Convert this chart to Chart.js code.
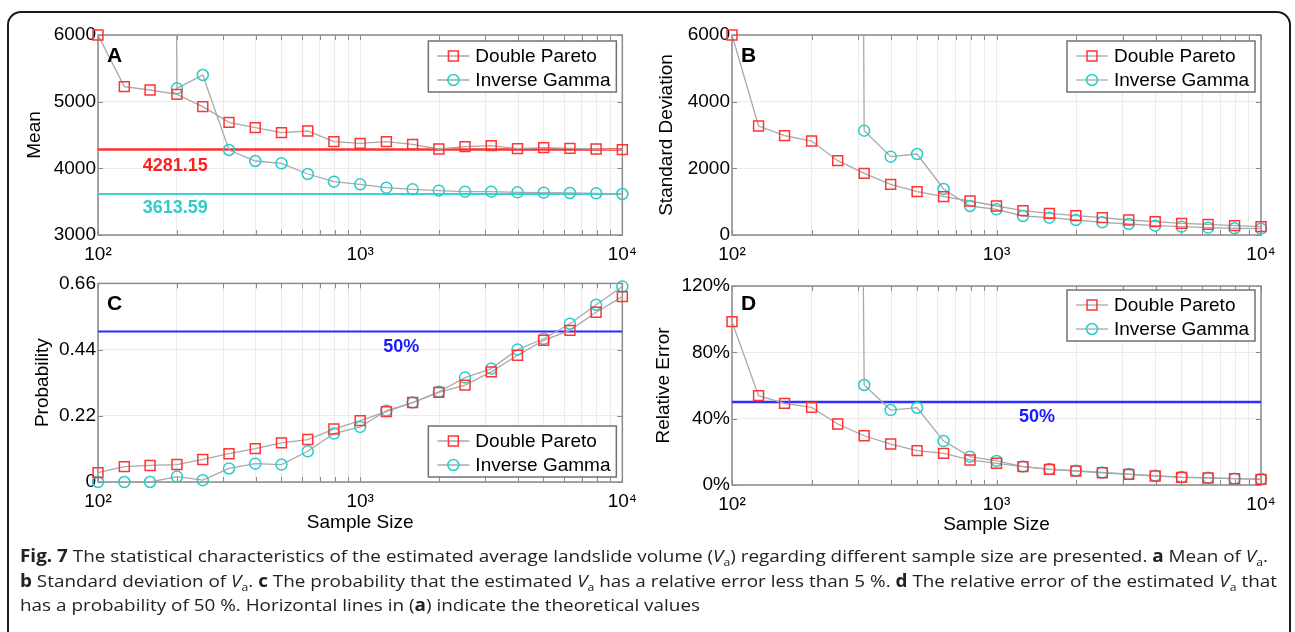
<!DOCTYPE html>
<html lang="en">
<head>
<meta charset="UTF-8">
<title>Fig. 7</title>
<script src="https://cdn.jsdelivr.net/npm/chart.js@4.4.1/dist/chart.umd.min.js"></script>
<style>
  html, body { margin: 0; padding: 0; background: #fff; }
  body { width: 1295px; height: 632px; position: relative; overflow: hidden; font-family: "Liberation Sans", Arial, sans-serif; }
  .frame { position: absolute; left: 7px; top: 11px; width: 1280px; height: 640px; border: 2px solid #1c1c1c; border-radius: 14px; }
  .panel { position: absolute; }
  .panel canvas { display: block; }
  #caption { position: absolute; left: 20px; top: 544px; font-family: "Open Sans", "Noto Sans", sans-serif; font-size: 17px; line-height: 24.5px; color: #222; white-space: nowrap; transform-origin: 0 0; }
  #caption sub { font-size: 11px; line-height: 0; }
</style>
</head>
<body>
<div class="frame"></div>
<div class="panel" id="pA"><canvas id="cA"></canvas></div>
<div class="panel" id="pB"><canvas id="cB"></canvas></div>
<div class="panel" id="pC"><canvas id="cC"></canvas></div>
<div class="panel" id="pD"><canvas id="cD"></canvas></div>
<div id="caption">
  <div><span><b>Fig. 7</b> The statistical characteristics of the estimated average landslide volume (<i>V</i><sub>a</sub>) regarding different sample size are presented. <b>a</b> Mean of <i>V</i><sub>a</sub>.</span></div>
  <div><span><b>b</b> Standard deviation of <i>V</i><sub>a</sub>. <b>c</b> The probability that the estimated <i>V</i><sub>a</sub> has a relative error less than 5 %. <b>d</b> The relative error of the estimated <i>V</i><sub>a</sub> that</span></div>
  <div><span>has a probability of 50 %. Horizontal lines in (<b>a</b>) indicate the theoretical values</span></div>
</div>

<script>
// sample sizes (x), 10 per decade
const sampleSize = [100, 126, 158, 200, 251, 316, 398, 501, 631, 794, 1000, 1259, 1585, 1995, 2512, 3162, 3981, 5012, 6310, 7943, 10000];
const xGridValues = [100, 200, 300, 400, 500, 600, 700, 800, 900, 1000, 2000, 3000, 4000, 5000, 6000, 7000, 8000, 9000, 10000];
const xTickValues = [100, 1000, 10000];
const xTickLabels = ['10²', '10³', '10⁴'];

// A: mean
const meanDP = [6000, 5225, 5175, 5110, 4925, 4690, 4610, 4535, 4560, 4400, 4375, 4400, 4360, 4290, 4325, 4340, 4295, 4310, 4300, 4290, 4280];
const meanIG = [150000, 120000, 90000, 5200, 5400, 4275, 4110, 4075, 3915, 3800, 3760, 3710, 3685, 3665, 3650, 3650, 3640, 3635, 3630, 3625, 3615];
const meanTheoryDP = 4281.15;
const meanTheoryIG = 3613.59;
const yTicksA = [3000, 4000, 5000, 6000];

// B: standard deviation
const sdDP = [6000, 3270, 2980, 2820, 2230, 1850, 1520, 1300, 1150, 1020, 870, 730, 650, 580, 520, 450, 400, 350, 320, 280, 250];
const sdIG = [400000, 300000, 250000, 200000, 150000, 3130, 2350, 2430, 1380, 870, 770, 570, 520, 450, 380, 330, 280, 250, 220, 200, 190];
const yTicksB = [0, 2000, 4000, 6000];

// C: probability
const probDP = [0.031, 0.051, 0.055, 0.058, 0.075, 0.094, 0.111, 0.130, 0.141, 0.176, 0.204, 0.234, 0.264, 0.298, 0.322, 0.366, 0.421, 0.471, 0.504, 0.564, 0.616];
const probIG = [0, 0, 0, 0.018, 0.006, 0.045, 0.061, 0.058, 0.102, 0.161, 0.183, 0.237, 0.264, 0.300, 0.347, 0.377, 0.440, 0.476, 0.526, 0.589, 0.650];
const probLevel = 0.5;
const yTicksC = [0, 0.22, 0.44, 0.66];

// D: relative error (%)
const errDP = [98.5, 53.9, 49.2, 46.8, 36.8, 29.7, 24.7, 20.7, 19.1, 15.1, 13.1, 11.1, 9.4, 8.4, 7.4, 6.4, 5.4, 4.6, 4.2, 3.8, 3.4];
const errIG = [4000, 3500, 3000, 2500, 2000, 60.3, 45.2, 46.6, 26.5, 17.1, 14.5, 11.1, 9.6, 8.6, 7.6, 6.6, 5.6, 4.8, 4.4, 3.8, 3.6];
const errLevel = 50;
const yTicksD = [0, 40, 80, 120];

const seriesNames = ['Double Pareto', 'Inverse Gamma'];

Chart.defaults.font.family = '"Liberation Sans", Arial, sans-serif';
Chart.defaults.color = '#000';

const DP = { name: seriesNames[0], shape: 'rect', r: 7, color: '#ff3333' };
const IG = { name: seriesNames[1], shape: 'circle', r: 5.5, color: '#26cccc' };
const LINE_GRAY = '#a9a9a9';
const FRAME = '#8a8a8a';

function pts(vals) {
  return sampleSize.map((x, i) => ({ x: x, y: vals[i] }));
}
function flat(v) {
  return [{ x: sampleSize[0], y: v }, { x: sampleSize[sampleSize.length - 1], y: v }];
}

function marker(ctx, s, x, y) {
  ctx.save();
  ctx.strokeStyle = s.color;
  ctx.lineWidth = 1.5;
  ctx.beginPath();
  if (s.shape === 'rect') {
    const h = s.r * Math.SQRT1_2;
    ctx.rect(x - h, y - h, 2 * h, 2 * h);
  } else {
    ctx.arc(x, y, s.r, 0, Math.PI * 2);
  }
  ctx.stroke();
  ctx.restore();
}

const deco = {
  id: 'deco',
  beforeDatasetsDraw(chart, args, o) {
    const { ctx, chartArea: a } = chart;
    const xs = chart.scales.x, ys = chart.scales.y;
    ctx.save();
    ctx.strokeStyle = FRAME;
    ctx.lineWidth = 1;
    ctx.beginPath();
    xs.ticks.forEach(t => {
      const px = Math.round(xs.getPixelForValue(t.value)) + 0.5;
      ctx.moveTo(px, a.bottom); ctx.lineTo(px, a.bottom - 5);
      ctx.moveTo(px, a.top); ctx.lineTo(px, a.top + 5);
    });
    ys.ticks.forEach(t => {
      const py = Math.round(ys.getPixelForValue(t.value)) + 0.5;
      ctx.moveTo(a.left, py); ctx.lineTo(a.left + 5, py);
      ctx.moveTo(a.right, py); ctx.lineTo(a.right - 5, py);
    });
    ctx.stroke();
    ctx.lineWidth = 1.5;
    ctx.strokeRect(a.left, a.top, a.right - a.left, a.bottom - a.top);
    ctx.restore();
  },
  afterDatasetsDraw(chart, args, o) {
    const { ctx, chartArea: a } = chart;
    const xs = chart.scales.x, ys = chart.scales.y;
    ctx.save();
    // panel letter
    ctx.font = 'bold 21px "Liberation Sans", Arial, sans-serif';
    ctx.fillStyle = '#000';
    ctx.textBaseline = 'middle';
    ctx.textAlign = 'left';
    ctx.fillText(o.letter, a.left + 9, a.top + o.letterDy);

    // value notes
    ctx.font = 'bold 18px "Liberation Sans", Arial, sans-serif';
    ctx.textAlign = 'center';
    (o.notes || []).forEach(n => {
      ctx.fillStyle = n.color;
      ctx.fillText(n.text, xs.getPixelForValue(n.x), ys.getPixelForValue(n.y) + n.dy);
    });

    // legend
    const lg = o.legend;
    const w = 188, h = 51;
    const lx = a.right - 6 - w;
    const ly = lg.corner === 'bottom' ? a.bottom - 5 - h : a.top + lg.dy;
    ctx.fillStyle = '#fff';
    ctx.fillRect(lx, ly, w, h);
    ctx.strokeStyle = '#707070';
    ctx.lineWidth = 1.5;
    ctx.strokeRect(lx, ly, w, h);
    ctx.font = '19px "Liberation Sans", Arial, sans-serif';
    ctx.textAlign = 'left';
    [DP, IG].forEach((s, i) => {
      const cy = ly + 15 + i * 24;
      ctx.strokeStyle = LINE_GRAY;
      ctx.lineWidth = 1.3;
      ctx.beginPath();
      ctx.moveTo(lx + 9, cy); ctx.lineTo(lx + 41, cy);
      ctx.stroke();
      marker(ctx, s, lx + 25, cy);
      ctx.fillStyle = '#000';
      ctx.fillText(s.name, lx + 47, cy + 1);
    });
    ctx.restore();
  }
};

function seriesSets(dpVals, igVals) {
  const mk = (s, vals) => ({
    data: pts(vals), showLine: false, clip: false,
    pointStyle: s.shape, pointRadius: s.r, pointHoverRadius: s.r,
    pointBorderColor: s.color, pointBackgroundColor: 'rgba(0,0,0,0)', pointBorderWidth: 1.5
  });
  const ln = vals => ({
    data: pts(vals), borderColor: LINE_GRAY, borderWidth: 1.3, pointRadius: 0, fill: false, tension: 0
  });
  return [mk(DP, dpVals), mk(IG, igVals), ln(dpVals), ln(igVals)];
}
function refLine(v, color, width) {
  return { data: flat(v), borderColor: color, borderWidth: width, pointRadius: 0, fill: false };
}

function buildPanel(id, box, plot, cfg) {
  const cv = document.getElementById('c' + id);
  const wrap = document.getElementById('p' + id);
  wrap.style.left = box.left + 'px';
  wrap.style.top = box.top + 'px';
  cv.width = box.width;
  cv.height = box.height;

  const titleHalf = 4 + 19 * 1.2 / 2;
  const padLeft = cfg.yTitleX - box.left - titleHalf;
  const yWidth = plot.left - box.left - padLeft;
  const xHeight = box.top + box.height - plot.bottom;

  new Chart(cv, {
    type: 'line',
    data: { datasets: cfg.datasets },
    options: {
      responsive: false,
      animation: false,
      devicePixelRatio: 1,
      events: [],
      layout: { padding: { left: padLeft, top: plot.top - box.top, right: box.left + box.width - plot.right, bottom: 0 } },
      plugins: {
        legend: { display: false },
        tooltip: { enabled: false },
        deco: cfg.deco
      },
      scales: {
        x: {
          type: 'logarithmic',
          min: 100, max: 10000,
          afterBuildTicks: s => { s.ticks = xGridValues.map(v => ({ value: v })); },
          afterFit: s => { s.height = xHeight; },
          grid: { color: '#ebebeb', lineWidth: 1, drawTicks: false },
          border: { display: false },
          ticks: {
            autoSkip: false, maxRotation: 0, minRotation: 0, padding: 8,
            font: { size: 19 }, color: '#000',
            callback: v => {
              const k = xTickValues.indexOf(Math.round(v));
              return k >= 0 ? xTickLabels[k] : '';
            }
          },
          title: { display: !!cfg.xTitle, text: cfg.xTitle || '', font: { size: 19 }, color: '#000', padding: { top: 0, bottom: 4 } }
        },
        y: {
          min: cfg.yTicks[0], max: cfg.yTicks[cfg.yTicks.length - 1],
          afterBuildTicks: s => { s.ticks = cfg.yTicks.map(v => ({ value: v })); },
          afterFit: s => { s.width = yWidth; },
          grid: { color: '#ebebeb', lineWidth: 1, drawTicks: false },
          border: { display: false },
          ticks: { padding: 2, font: { size: 19 }, color: '#000', callback: cfg.yFmt || (v => String(v)) },
          title: { display: true, text: cfg.yTitle, font: { size: 19 }, color: '#000', padding: { top: 4, bottom: 4 } }
        }
      }
    },
    plugins: [deco]
  });
}

buildPanel('A', { left: 0, top: 15, width: 645, height: 258 }, { left: 98, top: 35, right: 627, bottom: 235 }, {
  yTitle: 'Mean', yTitleX: 35, yTicks: yTicksA,
  datasets: seriesSets(meanDP, meanIG).concat([refLine(meanTheoryDP, '#ff3030', 2.5), refLine(meanTheoryIG, '#3fd0d0', 2)]),
  deco: {
    letter: 'A', letterDy: 21,
    legend: { corner: 'top', dy: 6 },
    notes: [
      { text: meanTheoryDP.toFixed(2), x: 197, y: meanTheoryDP, dy: 16, color: '#ff2020' },
      { text: meanTheoryIG.toFixed(2), x: 197, y: meanTheoryIG, dy: 14, color: '#2fcccc' }
    ]
  }
});

buildPanel('B', { left: 645, top: 15, width: 650, height: 258 }, { left: 732, top: 35, right: 1261, bottom: 235 }, {
  yTitle: 'Standard Deviation', yTitleX: 667, yTicks: yTicksB,
  datasets: seriesSets(sdDP, sdIG),
  deco: { letter: 'B', letterDy: 21, legend: { corner: 'top', dy: 6 }, notes: [] }
});

buildPanel('C', { left: 0, top: 270, width: 645, height: 268 }, { left: 98, top: 283, right: 627, bottom: 482 }, {
  yTitle: 'Probability', yTitleX: 43, yTicks: yTicksC, xTitle: 'Sample Size',
  datasets: seriesSets(probDP, probIG).concat([refLine(probLevel, '#2a2aff', 2)]),
  deco: {
    letter: 'C', letterDy: 21,
    legend: { corner: 'bottom' },
    notes: [{ text: '50%', x: 1435, y: probLevel, dy: 15, color: '#1a1aff' }]
  }
});

buildPanel('D', { left: 645, top: 270, width: 650, height: 270 }, { left: 732, top: 286, right: 1261, bottom: 485 }, {
  yTitle: 'Relative Error', yTitleX: 664, yTicks: yTicksD, xTitle: 'Sample Size',
  yFmt: v => v + '%',
  datasets: seriesSets(errDP, errIG).concat([refLine(errLevel, '#3030ff', 2.5)]),
  deco: {
    letter: 'D', letterDy: 18,
    legend: { corner: 'top', dy: 4 },
    notes: [{ text: '50%', x: 1422, y: errLevel, dy: 15, color: '#1a1aff' }]
  }
});

// squeeze caption to the figure width
const cap = document.getElementById('caption');
const firstLine = cap.querySelector('span');
const capW = firstLine.getBoundingClientRect().width;
cap.style.transform = 'scaleX(' + (1248 / capW) + ')';
</script>
</body>
</html>
